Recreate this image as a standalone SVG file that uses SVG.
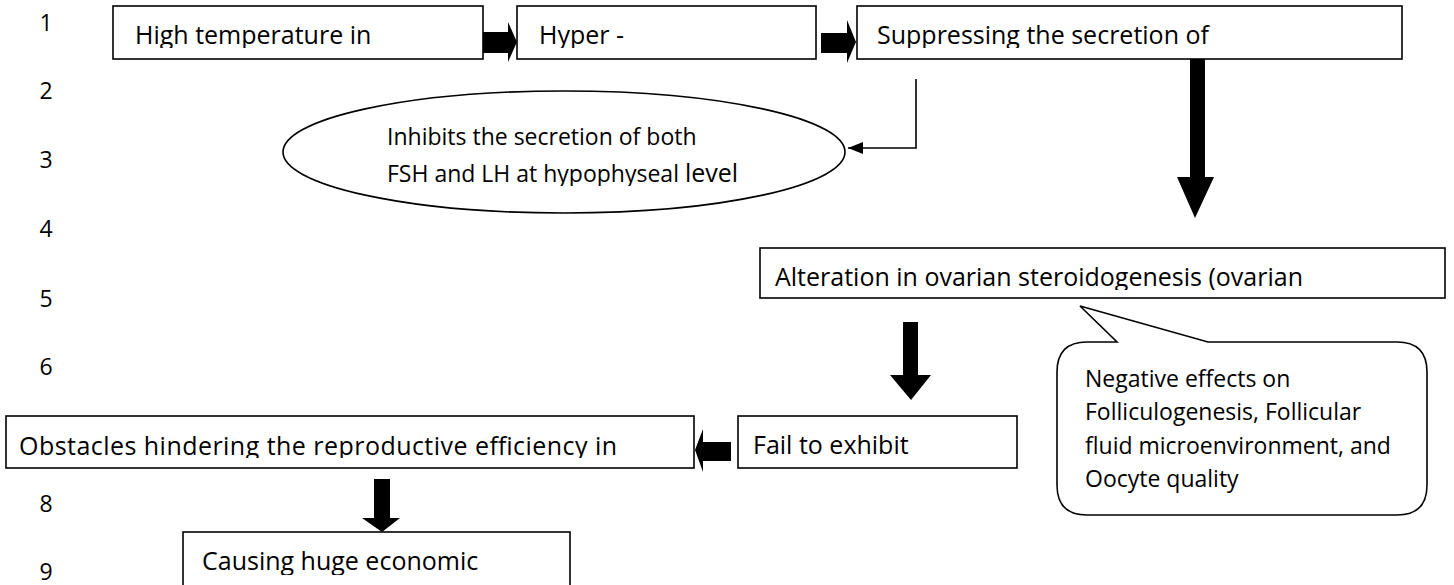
<svg xmlns="http://www.w3.org/2000/svg" width="1454" height="585" viewBox="0 0 1454 585">
<style>
.box{fill:#fff;stroke:#000;stroke-width:1.6}
.t{font-family:"Open Sans","Noto Sans",sans-serif;font-size:25px;fill:#000}
.s{font-family:"Open Sans","Noto Sans",sans-serif;font-size:23px;fill:#000}
.n{font-family:"Open Sans","Noto Sans",sans-serif;font-size:23px;fill:#000;text-anchor:middle}
.blk{fill:#000;stroke:none}
.ln{fill:none;stroke:#000;stroke-width:1.6}
</style>
<defs>
<marker id="ah" markerWidth="16" markerHeight="12" refX="15" refY="6" orient="auto" markerUnits="userSpaceOnUse">
<path d="M0,0 L15,6 L0,12 Z" fill="#000"/>
</marker>
<clipPath id="c1"><rect x="113" y="6" width="370" height="42"/></clipPath>
<clipPath id="c2"><rect x="517" y="6" width="299" height="42"/></clipPath>
<clipPath id="c3"><rect x="857" y="6" width="545" height="42"/></clipPath>
<clipPath id="c4"><rect x="760" y="248" width="685" height="42"/></clipPath>
<clipPath id="c5"><rect x="6" y="416" width="688" height="42"/></clipPath>
<clipPath id="c6"><rect x="183" y="532" width="387" height="43"/></clipPath>
<clipPath id="ce"><rect x="280" y="90" width="570" height="96"/></clipPath>
</defs>

<g id="row-numbers">
<text class="n" x="46" y="31">1</text>
<text class="n" x="46" y="99">2</text>
<text class="n" x="46" y="168">3</text>
<text class="n" x="46" y="237">4</text>
<text class="n" x="46" y="307">5</text>
<text class="n" x="46" y="375">6</text>
<text class="n" x="46" y="512">8</text>
<text class="n" x="46" y="580">9</text>
</g>

<g id="connectors">
<path class="blk" d="M483,32 L508,32 L508,22 L517,42 L508,62 L508,53 L483,53 Z"/>
<path class="blk" d="M821,33 L847,33 L847,20 L856,42 L847,63 L847,53 L821,53 Z"/>
<path class="blk" d="M1190,59 L1205,59 L1205,177 L1214,177 L1195,218 L1177,177 L1190,177 Z"/>
<polyline class="ln" points="916,79 916,148 848,148" marker-end="url(#ah)"/>
<path class="blk" d="M903,322 L918,322 L918,375 L931,375 L911,400 L890,375 L903,375 Z"/>
<path class="blk" d="M731,442 L703,442 L703,429 L695,450 L703,472 L703,461 L731,461 Z"/>
<path class="blk" d="M374,479 L390,479 L390,518 L400,518 L382,532 L362,518 L374,518 Z"/>
</g>

<g id="node-high-temp">
<rect class="box" x="113" y="6" width="370" height="53"/>
<text class="t" x="135" y="44" clip-path="url(#c1)">High temperature in</text>
</g>

<g id="node-hyper">
<rect class="box" x="517" y="6" width="299" height="53"/>
<text class="t" x="539" y="44" clip-path="url(#c2)">Hyper -</text>
</g>

<g id="node-suppressing">
<rect class="box" x="857" y="6" width="545" height="53"/>
<text class="t" x="877" y="44" clip-path="url(#c3)">Suppressing the secretion of</text>
</g>

<g id="node-inhibits">
<ellipse class="box" cx="564" cy="152" rx="281" ry="61"/>
<text class="s" x="387" y="145">Inhibits the secretion of both</text>
<text class="s" x="387" y="182" clip-path="url(#ce)">FSH and LH at hypophyseal <tspan font-size="25">level</tspan></text>
</g>

<g id="node-alteration">
<rect class="box" x="760" y="248" width="685" height="50"/>
<text class="t" x="775" y="286" clip-path="url(#c4)">Alteration in ovarian steroidogenesis (ovarian</text>
</g>

<g id="node-negative-effects">
<path class="box" d="M1087,342 L1117,342 L1080,306 L1208,342 L1397,342 Q1427,342 1427,372 L1427,485 Q1427,515 1397,515 L1087,515 Q1057,515 1057,485 L1057,372 Q1057,342 1087,342 Z"/>
<text class="s" x="1085" y="387">Negative effects on</text>
<text class="s" x="1085" y="420">Folliculogenesis, Follicular</text>
<text class="s" x="1085" y="454">fluid microenvironment, and</text>
<text class="s" x="1085" y="487">Oocyte quality</text>
</g>

<g id="node-fail">
<rect class="box" x="738" y="416" width="279" height="52"/>
<text class="t" x="753" y="454">Fail to exhibit</text>
</g>

<g id="node-obstacles">
<rect class="box" x="6" y="416" width="688" height="52"/>
<text class="t" x="19" y="455" textLength="598" clip-path="url(#c5)">Obstacles hindering the reproductive efficiency in</text>
</g>

<g id="node-causing">
<rect class="box" x="183" y="532" width="387" height="60"/>
<text class="t" x="202" y="570" clip-path="url(#c6)">Causing huge economic</text>
</g>
</svg>
